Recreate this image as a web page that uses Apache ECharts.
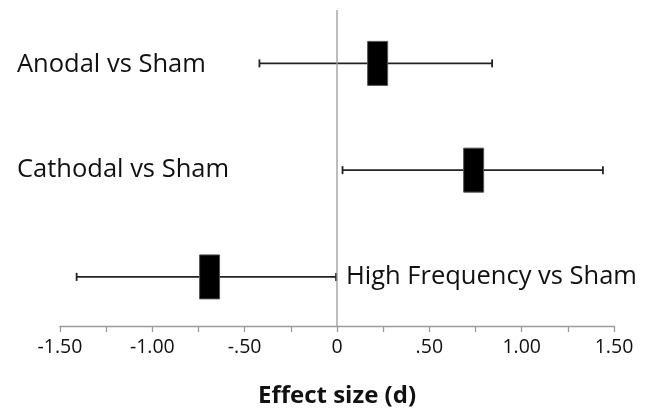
<!DOCTYPE html>
<html><head><meta charset="utf-8">
<script src="https://cdn.jsdelivr.net/npm/echarts@6/dist/echarts.min.js"></script>
<style>html,body{margin:0;padding:0;background:#fff}#c{width:650px;height:413px}</style>
</head><body><div id="c"></div>
<script>
var categories = ['Anodal vs Sham', 'Cathodal vs Sham', 'High Frequency vs Sham'];
var effect = [0.22, 0.74, -0.69];
var ciLow = [-0.42, 0.03, -1.41];
var ciHigh = [0.84, 1.44, -0.005];
var rowPos = [2.5, 1.5, 0.5];
var tickValues = [-1.5, -1, -0.5, 0, 0.5, 1, 1.5];
var tickLabels = ['-1.50', '-1.00', '-.50', '0', '.50', '1.00', '1.50'];

var FONT = '"Open Sans", sans-serif';
var chart = echarts.init(document.getElementById('c'));
var data = categories.map(function (c, i) { return [effect[i], rowPos[i], ciLow[i], ciHigh[i]]; });

chart.setOption({
  animation: false,
  grid: { left: 60, right: 36, top: 10, bottom: 86 },
  xAxis: {
    type: 'value', min: -1.5, max: 1.5, interval: 0.25,
    axisLine: { show: true, onZero: false, lineStyle: { color: '#9a9a9a', width: 1.3 } },
    axisTick: { show: true, length: 6, lineStyle: { color: '#9a9a9a', width: 1.3 } },
    splitLine: { show: false },
    axisLabel: {
      margin: 11, fontSize: 19.5, color: '#111', fontFamily: FONT,
      formatter: function (v) {
        for (var i = 0; i < tickValues.length; i++) {
          if (Math.abs(v - tickValues[i]) < 1e-6) return tickLabels[i];
        }
        return '';
      }
    },
    name: 'Effect size (d)', nameLocation: 'middle', nameGap: 58,
    nameTextStyle: { fontSize: 24, fontWeight: 'bold', color: '#111', fontFamily: FONT }
  },
  yAxis: {
    type: 'value', min: 0.04, max: 3.0,
    axisLine: { show: false }, axisTick: { show: false },
    axisLabel: { show: false }, splitLine: { show: false }
  },
  series: [
    {
      type: 'line', data: [[0, 0.04], [0, 3.0]], symbol: 'none',
      lineStyle: { color: '#9a9a9a', width: 1.3 }, silent: true
    },
    {
      type: 'custom',
      data: data,
      renderItem: function (params, api) {
        var y = api.value(1);
        var c = api.coord([api.value(0), y]);
        var lo = api.coord([api.value(2), y]);
        var hi = api.coord([api.value(3), y]);
        var capH = 8, bw = 20, bh = 44;
        return {
          type: 'group',
          children: [
            { type: 'line', shape: { x1: lo[0], y1: c[1], x2: hi[0], y2: c[1] }, style: { stroke: '#222', lineWidth: 1.8 } },
            { type: 'line', shape: { x1: lo[0], y1: c[1] - capH / 2, x2: lo[0], y2: c[1] + capH / 2 }, style: { stroke: '#222', lineWidth: 1.8 } },
            { type: 'line', shape: { x1: hi[0], y1: c[1] - capH / 2, x2: hi[0], y2: c[1] + capH / 2 }, style: { stroke: '#222', lineWidth: 1.8 } },
            { type: 'rect', shape: { x: c[0] - bw / 2, y: c[1] - bh / 2, width: bw, height: bh }, style: { fill: '#000', stroke: '#555', lineWidth: 1 } }
          ]
        };
      }
    }
  ],
  graphic: [
    { type: 'text', x: 17, y: 65, style: { text: categories[0], fontSize: 25.5, fontFamily: FONT, fill: '#111', verticalAlign: 'middle' } },
    { type: 'text', x: 17, y: 170, style: { text: categories[1], fontSize: 25.5, fontFamily: FONT, fill: '#111', verticalAlign: 'middle' } },
    { type: 'text', x: 346, y: 277, style: { text: categories[2], fontSize: 25.5, fontFamily: FONT, fill: '#111', verticalAlign: 'middle' } }
  ]
});
</script></body></html>
